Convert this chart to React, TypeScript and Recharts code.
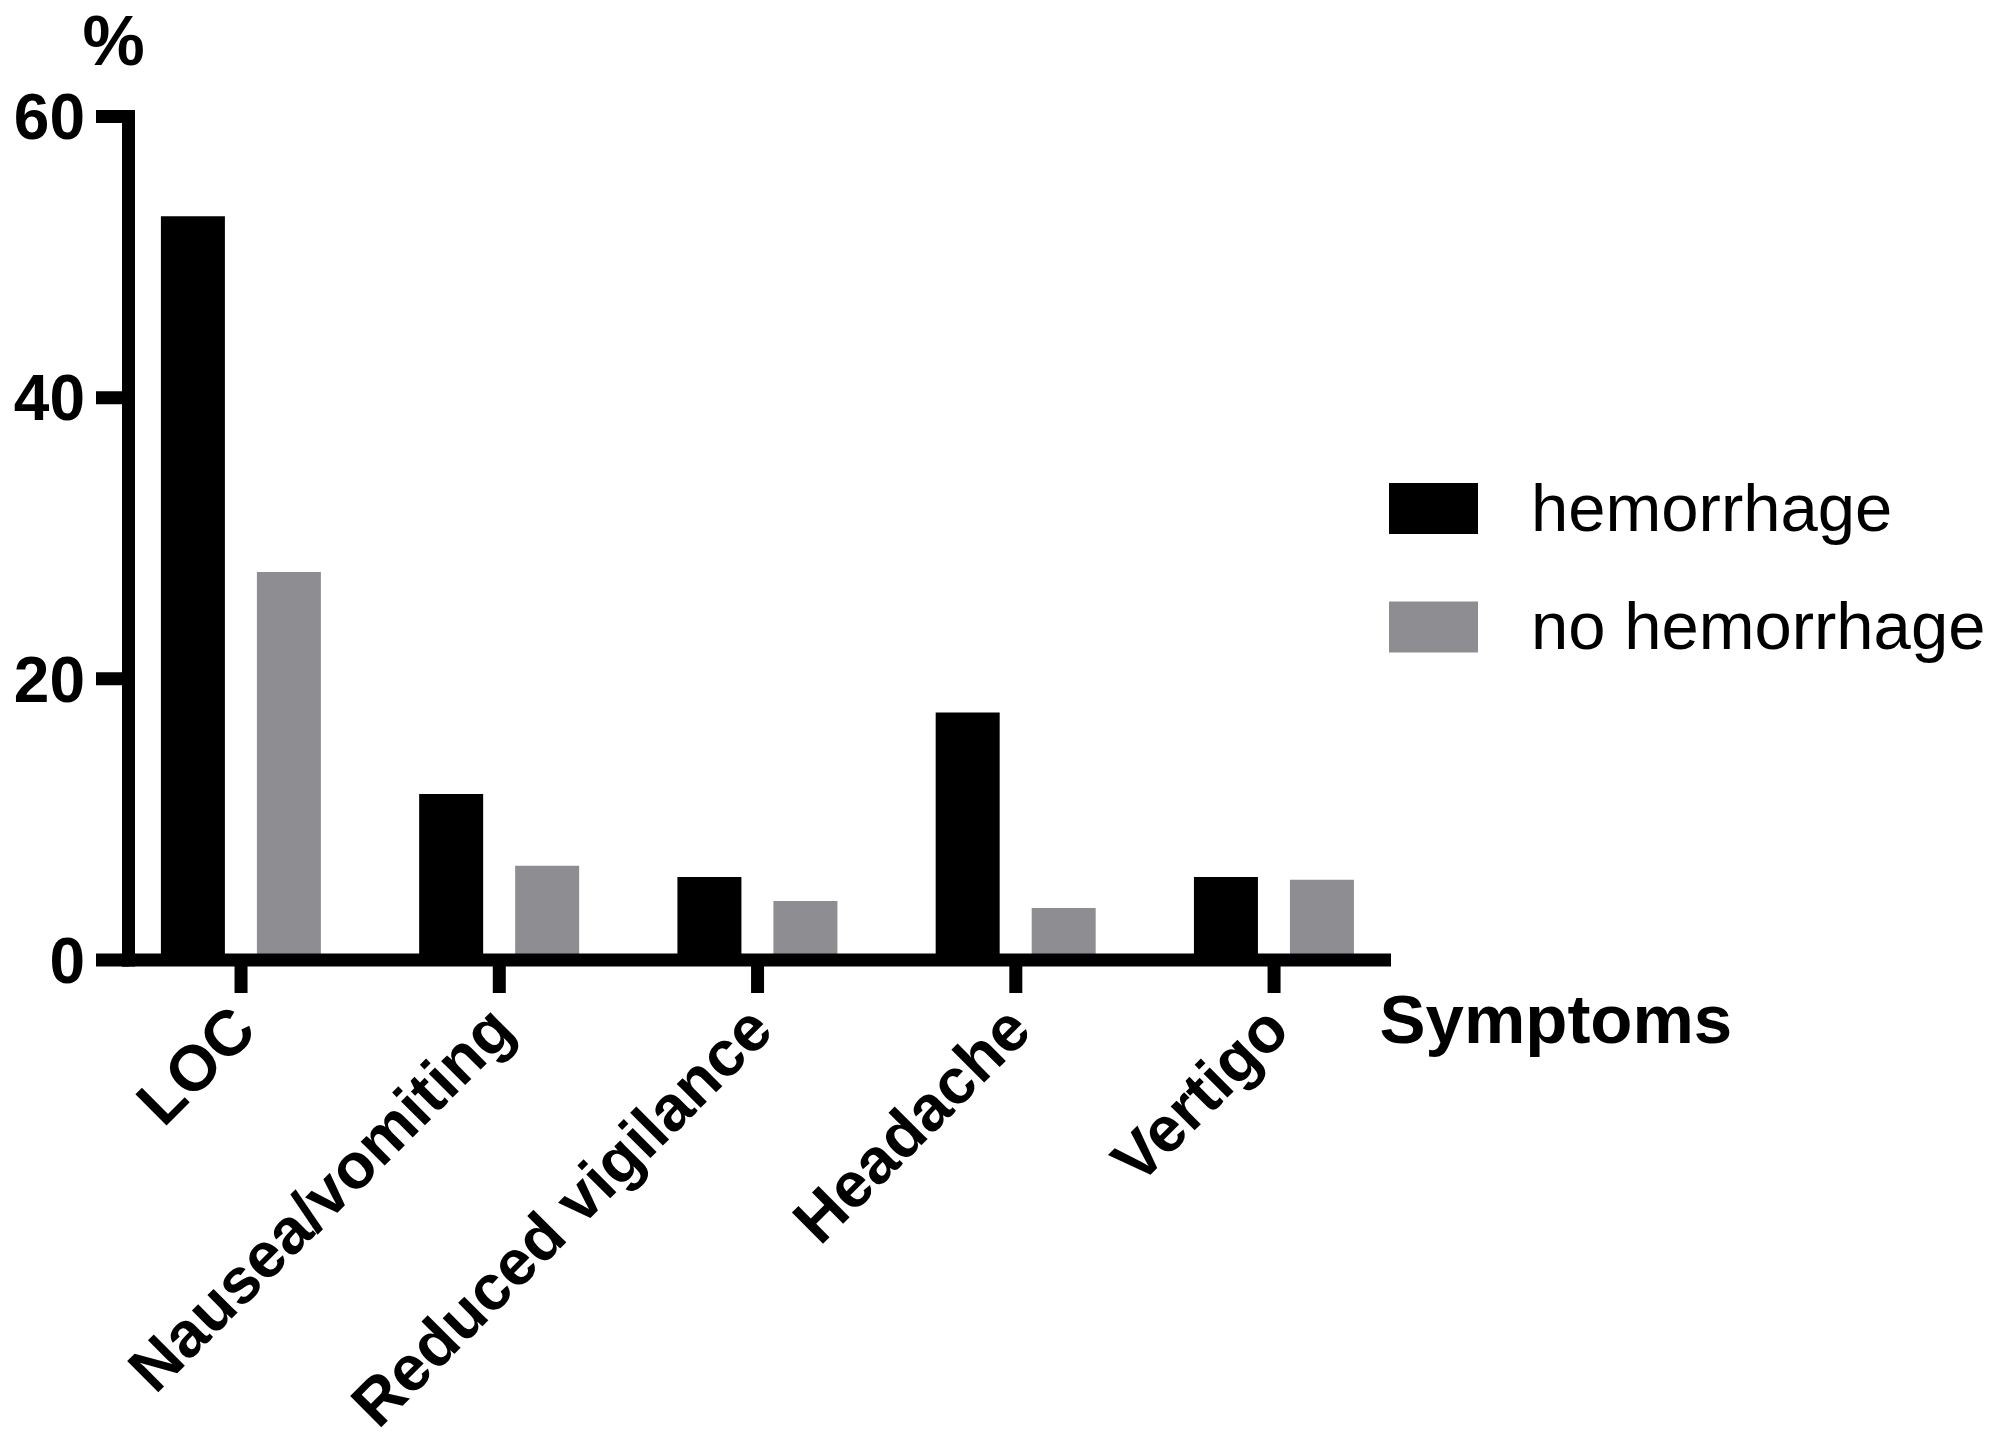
import React from 'react';
import { BarChart, Bar, XAxis, YAxis, Legend, Label } from 'recharts';

const categories = ['LOC', 'Nausea/vomiting', 'Reduced vigilance', 'Headache', 'Vertigo'];
const hemorrhage = [52.9, 11.8, 5.9, 17.6, 5.9];
const noHemorrhage = [27.6, 6.7, 4.2, 3.7, 5.7];
const yTicks = [0, 20, 40, 60];
const seriesNames = ['hemorrhage', 'no hemorrhage'];
const colors = ['#000000', '#8e8e92'];

const data = categories.map((c, i) => ({ name: c, h: hemorrhage[i], nh: noHemorrhage[i] }));

const FONT = '"Liberation Sans", Arial, Helvetica, sans-serif';

const XTick = (props: any) => {
  const { x, y, payload } = props;
  return (
    <text
      transform={`translate(${x + 18},${y + 40}) rotate(-45)`}
      textAnchor="end"
      fontFamily={FONT}
      fontWeight="bold"
      fontSize={64}
      fill="#000"
    >
      {payload.value}
    </text>
  );
};

const PercentLabel = (props: any) => {
  const vb = props.viewBox || {};
  return (
    <text
      x={vb.x + vb.width - 15}
      y={vb.y - 52}
      textAnchor="middle"
      fontFamily={FONT}
      fontWeight="bold"
      fontSize={70}
      fill="#000"
    >
      %
    </text>
  );
};

const SymptomsLabel = (props: any) => {
  const vb = props.viewBox || {};
  return (
    <text
      x={vb.x + vb.width - 5}
      y={vb.y + 83}
      textAnchor="start"
      fontFamily={FONT}
      fontWeight="bold"
      fontSize={69}
      fill="#000"
    >
      Symptoms
    </text>
  );
};

const renderLegend = (props: any) => {
  const payload = props.payload || [];
  return (
    <svg
      width={606}
      height={260}
      style={{ display: 'block', position: 'absolute', left: 0, top: -40, overflow: 'visible' }}
    >
      {payload.map((e: any, i: number) => (
        <g key={i} transform={`translate(0,${40 + i * 118.5})`}>
          <rect x={0} y={0} width={89} height={51} fill={e.color} />
          <text x={142} y={47.5} fontFamily={FONT} fontSize={67} fill="#000">
            {e.value}
          </text>
        </g>
      ))}
    </svg>
  );
};

export default function App() {
  return (
    <div style={{ position: 'absolute', left: 0, top: 0, width: 1995, height: 1442, background: '#fff' }}>
      <BarChart
        width={1995}
        height={1442}
        data={data}
        margin={{ top: 116.5, right: 610.5, bottom: 0, left: 0 }}
        barSize={64}
        barGap={32}
      >
        <Bar dataKey="h" name={seriesNames[0]} fill={colors[0]} isAnimationActive={false} />
        <Bar dataKey="nh" name={seriesNames[1]} fill={colors[1]} isAnimationActive={false} />
        <XAxis
          dataKey="name"
          height={482}
          interval={0}
          padding={{ left: -16.6, right: -18.7 }}
          axisLine={{ stroke: '#000', strokeWidth: 13, strokeLinecap: 'square' }}
          tickLine={{ stroke: '#000', strokeWidth: 13 }}
          tickSize={33}
          tickMargin={0}
          tick={<XTick />}
        >
          <Label content={<SymptomsLabel />} />
        </XAxis>
        <YAxis
          width={128.5}
          domain={[0, 60]}
          ticks={yTicks}
          interval={0}
          axisLine={{ stroke: '#000', strokeWidth: 13, strokeLinecap: 'square' }}
          tickLine={{ stroke: '#000', strokeWidth: 13 }}
          tickSize={32.5}
          tickMargin={11}
          tick={{ fill: '#000', fontSize: 64, fontWeight: 'bold', fontFamily: FONT }}
        >
          <Label content={<PercentLabel />} />
        </YAxis>
        <Legend
          layout="vertical"
          align="center"
          verticalAlign="middle"
          wrapperStyle={{ left: 1389, top: 483, width: 606, height: 200 }}
          content={renderLegend}
        />
      </BarChart>
    </div>
  );
}
